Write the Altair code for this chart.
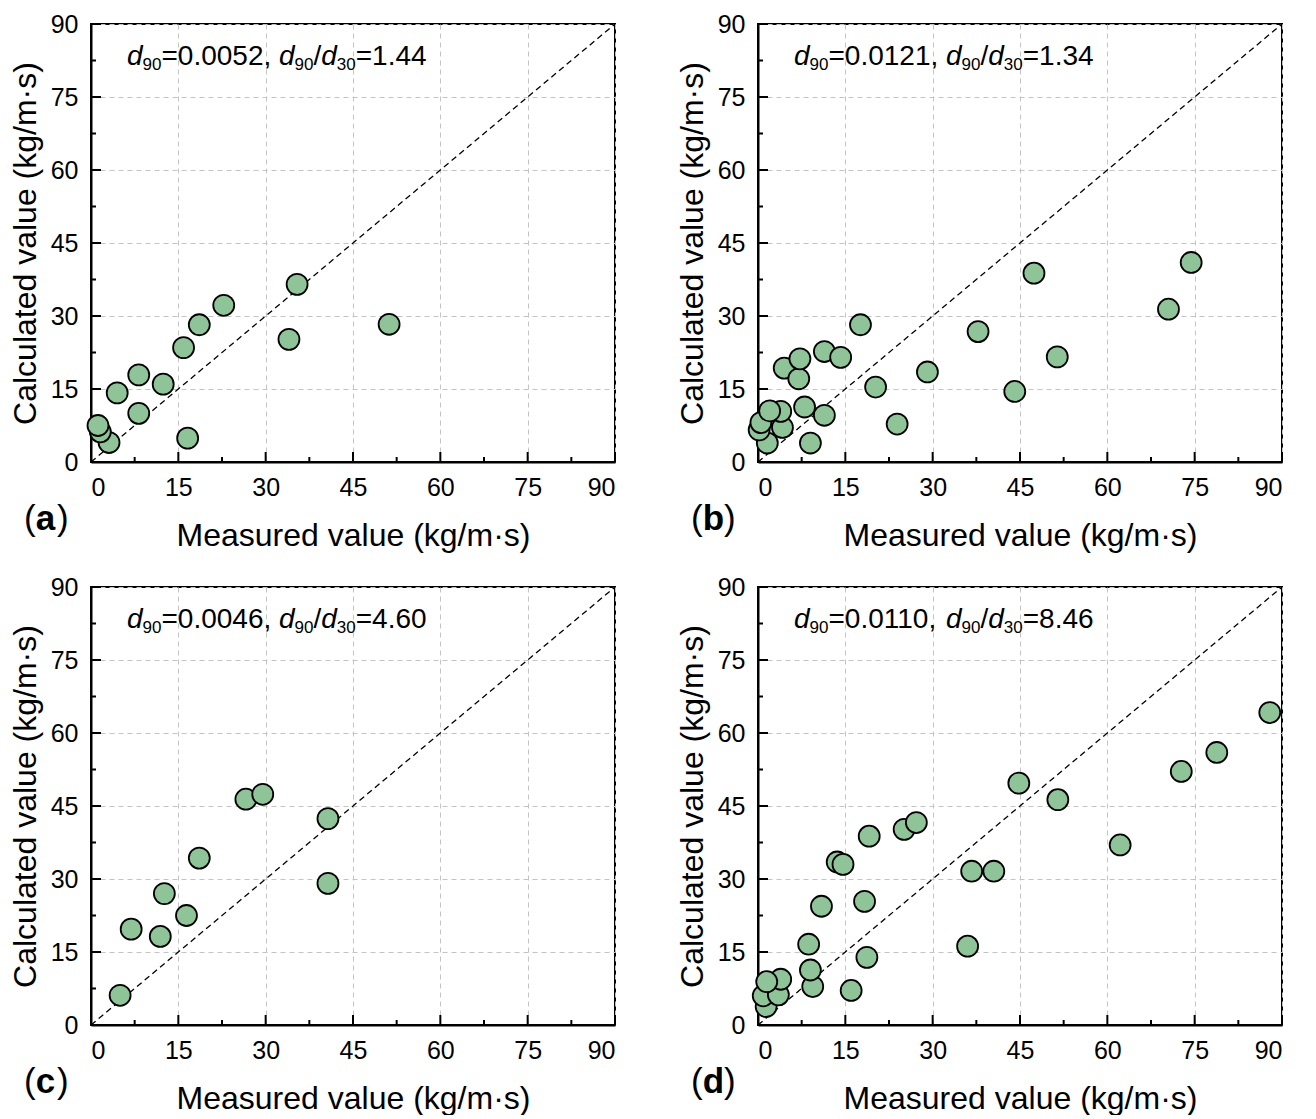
import altair as alt
import pandas as pd

# ---------------- data ----------------
a_measured = [3.1, 1.6, 1.2, 35.4, 22.8, 18.6, 15.9, 34.0, 51.2, 8.2, 12.4, 4.5, 8.2, 16.6]
a_calc = [4.0, 6.2, 7.5, 36.5, 32.2, 28.2, 23.5, 25.2, 28.3, 17.9, 16.0, 14.2, 10.0, 4.9]

b_measured = [17.6, 4.5, 7.0, 7.2, 11.4, 14.2, 20.2, 29.1, 23.9, 8.0, 11.4, 9.0,
              1.6, 0.2, 0.5, 4.2, 3.9, 2.0, 47.4, 74.4, 70.5, 37.8, 51.4, 44.1]
b_calc = [28.2, 19.3, 17.1, 21.2, 22.7, 21.5, 15.4, 18.5, 7.8, 11.3, 9.6, 3.9,
          3.9, 6.6, 8.1, 7.1, 10.4, 10.5, 38.8, 41.0, 31.4, 26.8, 21.6, 14.5]

c_measured = [26.6, 29.5, 40.7, 40.7, 18.6, 12.6, 16.4, 6.9, 11.9, 5.0]
c_calc = [46.4, 47.4, 42.4, 29.1, 34.3, 27.0, 22.5, 19.7, 18.2, 6.1]

d_measured = [44.8, 25.1, 27.2, 19.1, 13.6, 14.6, 36.7, 40.5, 10.9, 18.3, 8.7, 36.0, 18.7,
              9.4, 9.0, 16.0, 1.4, 0.9, 3.5, 3.9, 1.5, 87.9, 78.8, 72.7, 51.5, 62.2]
d_calc = [49.7, 40.2, 41.6, 38.8, 33.5, 33.0, 31.6, 31.6, 24.4, 25.4, 16.6, 16.2, 13.9,
          7.9, 11.3, 7.1, 3.8, 6.0, 6.2, 9.4, 8.9, 64.2, 56.0, 52.1, 46.3, 37.0]

panel_labels = ["a", "b", "c", "d"]
d90_values = ["0.0052", "0.0121", "0.0046", "0.0110"]
ratio_values = ["1.44", "1.34", "4.60", "8.46"]

major_ticks = [0, 15, 30, 45, 60, 75, 90]
minor_ticks = [7.5, 22.5, 37.5, 52.5, 67.5, 82.5]
diag = [0, 90]

# ---------------- style ----------------
W, H = 524, 438
FONT = "Liberation Sans"
FILL = "#8fc498"
F_ANN, F_SUB, SUB_SHIFT = 28, 17, 5

ARIAL = {c: 556 for c in "0123456789"}
ARIAL.update({"=": 584, ".": 278, ",": 278, " ": 278, "/": 278, "d": 556})


def tw(s, size):
    return sum(ARIAL[c] for c in s) * size / 1000.0


one = pd.DataFrame({"k": [0]})


def xenc():
    return alt.X("x:Q", scale=alt.Scale(domain=[0, 90], nice=False, zero=False),
                 axis=alt.Axis(values=major_ticks, title="Measured value (kg/m·s)",
                               format="d", ticks=False, labelPadding=13, titlePadding=20))


def yenc():
    return alt.Y("y:Q", scale=alt.Scale(domain=[0, 90], nice=False, zero=False),
                 axis=alt.Axis(values=major_ticks, title="Calculated value (kg/m·s)",
                               format="d", ticks=False, labelPadding=13, titlePadding=8))


def text_layer(txt, x, y, size, style="normal", weight="normal"):
    return alt.Chart(one).mark_text(
        text=txt, align="left", baseline="alphabetic", font=FONT, fontSize=size,
        fontStyle=style, fontWeight=weight, color="black"
    ).encode(x=alt.value(x), y=alt.value(y))


def panel(xs, ys, lab, d90, ratio):
    pts = pd.DataFrame({"x": xs, "y": ys})
    line = pd.DataFrame({"x": diag, "y": diag})
    layers = []
    # diagonal
    layers.append(alt.Chart(line).mark_line(color="black", strokeDash=[6, 4], strokeWidth=1.3)
                  .encode(x=xenc(), y=yenc()))
    # inward ticks
    for vals, ln in [(major_ticks, 10), (minor_ticks, 5)]:
        tdf = pd.DataFrame({"x": vals, "y": vals})
        layers.append(alt.Chart(tdf).mark_rule(color="black", strokeWidth=2)
                      .encode(x=xenc(), y=alt.value(H), y2=alt.value(H - ln)))
        layers.append(alt.Chart(tdf).mark_rule(color="black", strokeWidth=2)
                      .encode(y=yenc(), x=alt.value(0), x2=alt.value(ln)))
    # points
    layers.append(alt.Chart(pts).mark_circle(size=440, color=FILL, opacity=1,
                                             stroke="black", strokeWidth=1.8)
                  .encode(x=xenc(), y=yenc()))
    # annotation d90=..., d90/d30=...
    pieces = [("d", F_ANN, 0, "italic"), ("90", F_SUB, SUB_SHIFT, "normal"),
              ("=" + d90 + ", ", F_ANN, 0, "normal"), ("d", F_ANN, 0, "italic"),
              ("90", F_SUB, SUB_SHIFT, "normal"), ("/", F_ANN, 0, "normal"),
              ("d", F_ANN, 0, "italic"), ("30", F_SUB, SUB_SHIFT, "normal"),
              ("=" + ratio, F_ANN, 0, "normal")]
    cx, by = 36.0, 41.0
    for s, size, shift, style in pieces:
        layers.append(text_layer(s, cx, by + shift, size, style=style))
        cx += tw(s, size)
    # panel label (a)
    LS = 35
    lx, ly = -67.0, H + 68
    layers.append(text_layer("(", lx, ly, LS))
    layers.append(text_layer(lab, lx + 0.333 * LS, ly, LS, weight="bold"))
    layers.append(text_layer(")", lx + 0.333 * LS + 0.611 * LS, ly, LS))
    return alt.layer(*layers).properties(width=W, height=H)


pa = panel(a_measured, a_calc, panel_labels[0], d90_values[0], ratio_values[0])
pb = panel(b_measured, b_calc, panel_labels[1], d90_values[1], ratio_values[1])
pc = panel(c_measured, c_calc, panel_labels[2], d90_values[2], ratio_values[2])
pd_ = panel(d_measured, d_calc, panel_labels[3], d90_values[3], ratio_values[3])

chart = alt.vconcat(
    alt.hconcat(pa, pb, spacing=56),
    alt.hconcat(pc, pd_, spacing=56),
    spacing=22,
).properties(
    padding={"left": 8, "top": 11, "right": 5, "bottom": 0},
    background="white",
).configure_view(
    stroke="black", strokeWidth=2
).configure_axis(
    labelFont=FONT, titleFont=FONT, labelFontSize=25, titleFontSize=32,
    titleFontWeight="normal", labelColor="black", titleColor="black",
    domainColor="black", domainWidth=2, grid=True, gridColor="#c4c4c4",
    gridDash=[5, 4], gridWidth=1
)

chart.save("out.html", embed_options={"renderer": "svg", "actions": False})
